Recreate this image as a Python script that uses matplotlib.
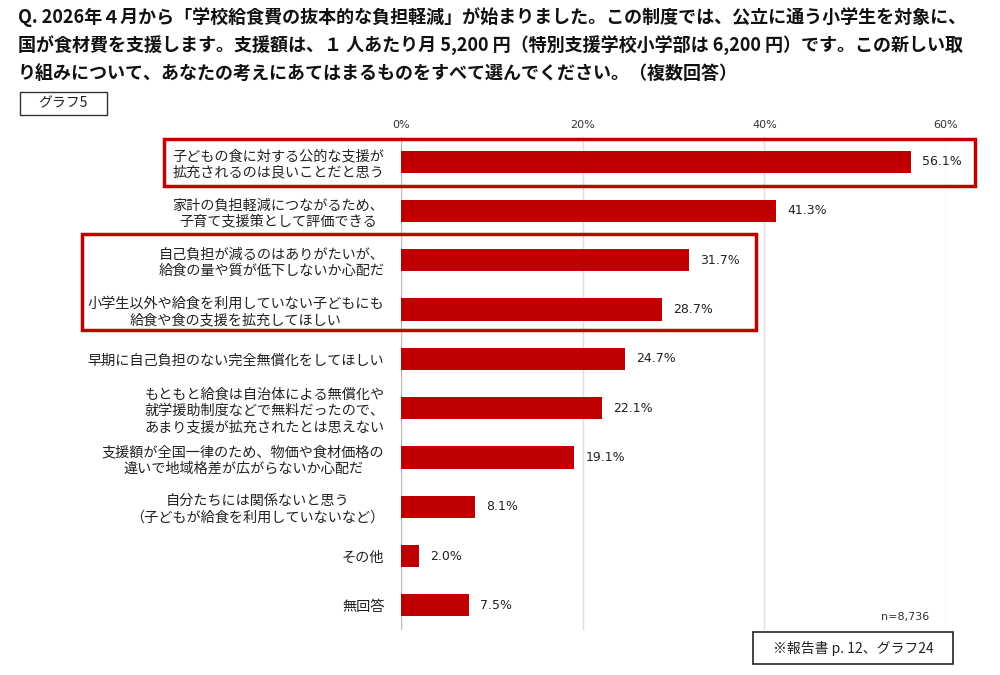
import matplotlib
matplotlib.use("Agg")
import matplotlib.pyplot as plt
from matplotlib.patches import Rectangle

plt.rcParams['font.family'] = ['Noto Sans CJK JP', 'DejaVu Sans']

categories = [
    "子どもの食に対する公的な支援が\n拡充されるのは良いことだと思う",
    "家計の負担軽減につながるため、\n子育て支援策として評価できる",
    "自己負担が減るのはありがたいが、\n給食の量や質が低下しないか心配だ",
    "小学生以外や給食を利用していない子どもにも\n給食や食の支援を拡充してほしい",
    "早期に自己負担のない完全無償化をしてほしい",
    "もともと給食は自治体による無償化や\n就学援助制度などで無料だったので、\nあまり支援が拡充されたとは思えない",
    "支援額が全国一律のため、物価や食材価格の\n違いで地域格差が広がらないか心配だ",
    "自分たちには関係ないと思う\n（子どもが給食を利用していないなど）",
    "その他",
    "無回答",
]
values = [56.1, 41.3, 31.7, 28.7, 24.7, 22.1, 19.1, 8.1, 2.0, 7.5]
xticks = [0, 20, 40, 60]
xtick_labels = ["0%", "20%", "40%", "60%"]

title = ("Q. 2026年４月から「学校給食費の抜本的な負担軽減」が始まりました。この制度では、公立に通う小学生を対象に、\n"
         "国が食材費を支援します。支援額は、１ 人あたり月 5,200 円（特別支援学校小学部は 6,200 円）です。この新しい取\n"
         "り組みについて、あなたの考えにあてはまるものをすべて選んでください。（複数回答）")

RED = "#C00000"
W, H = 1000, 675
fig = plt.figure(figsize=(10, 6.75), dpi=100)
fig.patch.set_facecolor("white")

ax_left, ax_right, ax_top, ax_bot = 401, 946, 137, 630
ax = fig.add_axes([ax_left / W, 1 - ax_bot / H, (ax_right - ax_left) / W, (ax_bot - ax_top) / H])

y = list(range(len(categories)))
ax.barh(y, values, height=0.45, color=RED, zorder=3)
ax.set_ylim(len(categories) - 0.5, -0.5)
ax.set_xlim(0, 60)
ax.set_xticks(xticks)
ax.set_xticklabels(xtick_labels, fontsize=8, color="#333333", family="DejaVu Sans")
ax.xaxis.tick_top()
ax.tick_params(axis="x", length=0, pad=5)
ax.set_yticks(y)
ax.set_yticklabels(categories, fontsize=10.2, color="#222222", multialignment="center", linespacing=1.2)
ax.tick_params(axis="y", length=0, pad=12)
for s in ax.spines.values():
    s.set_visible(False)
for xt in xticks:
    ax.axvline(xt, color="#BBBBBB" if xt == 0 else "#DDDDDD", lw=1, zorder=1)

for yi, v in zip(y, values):
    ax.annotate(f"{v:.1f}%", (v, yi), xytext=(8, 0), textcoords="offset points",
                va="center", ha="left", fontsize=9, color="#222222", zorder=4,
                family="DejaVu Sans")

ax.text(0.97, 0.027, "n=8,736", transform=ax.transAxes, ha="right", va="center",
        fontsize=8, color="#333333", family="DejaVu Sans")

# title
fig.text(18 / W, 1 - 7 / H, title, ha="left", va="top", fontsize=13, fontweight="bold",
         color="#111111", linespacing=1.55)

# graph label box
fig.patches.append(Rectangle((20 / W, 1 - 115 / H), 87 / W, 23 / H, transform=fig.transFigure,
                             fill=False, edgecolor="#333333", lw=1))
fig.text(63 / W, 1 - 103.5 / H, "グラフ5", ha="center", va="center", fontsize=10, color="#222222")

# red highlight boxes
fig.patches.append(Rectangle((164 / W, 1 - 186 / H), (975 - 164) / W, (186 - 139) / H,
                             transform=fig.transFigure, fill=False, edgecolor=RED, lw=2.5, zorder=5))
fig.patches.append(Rectangle((82 / W, 1 - 330 / H), (756 - 82) / W, (330 - 234) / H,
                             transform=fig.transFigure, fill=False, edgecolor=RED, lw=2.5, zorder=5))

# footnote box
fig.patches.append(Rectangle((753 / W, 1 - 664 / H), 200 / W, 32 / H, transform=fig.transFigure,
                             fill=False, edgecolor="#222222", lw=1.2))
fig.text(853 / W, 1 - 648 / H, "※報告書 p. 12、グラフ24", ha="center", va="center",
         fontsize=10, color="#222222")

fig.savefig("out.png", dpi=100, facecolor="white")
